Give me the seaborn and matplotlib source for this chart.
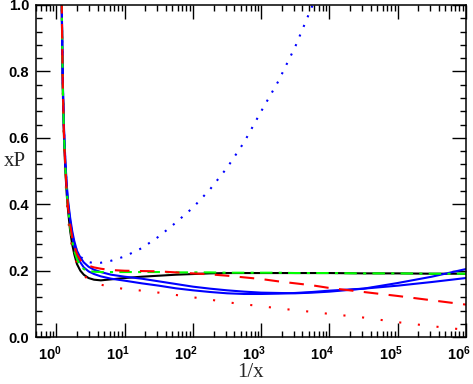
import matplotlib
matplotlib.use("Agg")
import matplotlib.pyplot as plt
import matplotlib.ticker as mticker
import matplotlib.transforms as mtransforms
import seaborn as sns
import numpy as np

# log10(1/x) sampling points
log_inv_x = [0.075, 0.085, 0.095, 0.11, 0.13, 0.15, 0.17, 0.2, 0.23, 0.26, 0.3, 0.35,
             0.4, 0.47, 0.55, 0.65, 0.8, 1.0, 1.25, 1.5, 1.75, 2.0, 2.25, 2.5, 2.75,
             3.0, 3.25, 3.5, 3.75, 4.0, 4.5, 5.0, 5.5, 6.0]

black_solid = [1.05, 0.85, 0.72, 0.6, 0.5, 0.43, 0.38, 0.32, 0.28, 0.25, 0.22, 0.2,
               0.188, 0.178, 0.173, 0.171, 0.174, 0.178, 0.182, 0.185, 0.188, 0.19,
               0.192, 0.193, 0.193, 0.193, 0.193, 0.193, 0.193, 0.193, 0.192, 0.192,
               0.191, 0.191]
blue_upper = [1.05, 0.87, 0.75, 0.63, 0.53, 0.46, 0.41, 0.36, 0.32, 0.29, 0.26, 0.24,
              0.225, 0.212, 0.203, 0.196, 0.188, 0.182, 0.176, 0.168, 0.16, 0.152,
              0.146, 0.141, 0.137, 0.134, 0.133, 0.132, 0.134, 0.137, 0.146, 0.163,
              0.182, 0.205]
blue_lower = [1.05, 0.86, 0.74, 0.62, 0.52, 0.45, 0.4, 0.35, 0.31, 0.275, 0.245, 0.225,
              0.21, 0.198, 0.19, 0.183, 0.176, 0.17, 0.162, 0.155, 0.147, 0.141, 0.136,
              0.132, 0.13, 0.13, 0.131, 0.133, 0.136, 0.14, 0.146, 0.155, 0.166, 0.178]
blue_dotted = [1.05, 0.86, 0.74, 0.62, 0.52, 0.45, 0.4, 0.35, 0.31, 0.28, 0.26, 0.243,
               0.233, 0.226, 0.223, 0.224, 0.23, 0.243, 0.268, 0.303, 0.345, 0.39,
               0.445, 0.51, 0.587, 0.68, 0.77, 0.875, 0.998, 1.13, 1.4, 1.7, 2.0, 2.3]
red_dotted = [1.05, 0.85, 0.7, 0.58, 0.48, 0.41, 0.36, 0.3, 0.27, 0.243, 0.222, 0.2,
              0.186, 0.173, 0.165, 0.158, 0.151, 0.145, 0.14, 0.134, 0.127, 0.12, 0.113,
              0.105, 0.099, 0.093, 0.087, 0.081, 0.076, 0.07, 0.059, 0.045, 0.033, 0.022]
green_dashdot = [1.05, 0.86, 0.73, 0.61, 0.51, 0.44, 0.39, 0.33, 0.29, 0.26, 0.235, 0.215,
                 0.205, 0.199, 0.197, 0.196, 0.196, 0.196, 0.196, 0.196, 0.195, 0.195,
                 0.195, 0.194, 0.194, 0.194, 0.194, 0.193, 0.193, 0.193, 0.192, 0.192,
                 0.191, 0.191]
red_dashed = [1.05, 0.86, 0.73, 0.61, 0.51, 0.44, 0.39, 0.34, 0.3, 0.275, 0.25, 0.232,
              0.222, 0.215, 0.21, 0.206, 0.202, 0.2, 0.199, 0.198, 0.195, 0.192, 0.189,
              0.185, 0.18, 0.175, 0.168, 0.162, 0.156, 0.148, 0.136, 0.124, 0.111, 0.098]

x_major = [1, 10, 100, 1000, 1e4, 1e5, 1e6]
x_labels = [r"$\mathbf{10^{%d}}$" % i for i in range(7)]
y_major = [0.0, 0.2, 0.4, 0.6, 0.8, 1.0]
y_labels = ["0.0", "0.2", "0.4", "0.6", "0.8", "1.0"]

sns.set_style("ticks")
plt.rcParams["font.family"] = ["Liberation Sans", "DejaVu Sans"]
plt.rcParams["mathtext.fontset"] = "custom"
plt.rcParams["mathtext.rm"] = "Liberation Sans"
plt.rcParams["mathtext.bf"] = "Liberation Sans:bold"

fig = plt.figure(figsize=(4.73, 3.84), dpi=100)
ax = fig.add_axes([0.076, 0.122, 0.909, 0.865])

inv_x = 10 ** np.array(log_inv_x)

series = [
    (black_solid, "black", "-"),
    (blue_upper, "#0000ff", "-"),
    (blue_lower, "#0000ff", "-"),
    (blue_dotted, "#0000ff", (0, (1, 4))),
    (red_dotted, "#ff0000", (0, (1, 8))),
    (green_dashdot, "#00ff00", (0, (6, 3, 1.5, 3))),
    (red_dashed, "#ff0000", (0, (7, 5))),
]
for vals, col, ls in series:
    sns.lineplot(x=inv_x, y=vals, color=col, linestyle=ls, linewidth=1.5,
                 estimator=None, sort=False, ax=ax)

ax.set_xscale("log")
ax.set_xlim(0.5, 1e6)
ax.set_ylim(0, 1.0)

ax.set_xticks(x_major)
ax.set_xticklabels(x_labels)
ax.xaxis.set_minor_locator(mticker.LogLocator(base=10, subs=np.arange(2, 10), numticks=20))
ax.xaxis.set_minor_formatter(mticker.NullFormatter())
ax.set_yticks(y_major)
ax.set_yticklabels(y_labels)
ax.yaxis.set_minor_locator(mticker.MultipleLocator(0.04))

ax.tick_params(which="both", direction="in", top=True, right=True, width=1, colors="black")
ax.tick_params(which="major", length=10, labelsize=10.5, pad=5)
ax.tick_params(which="minor", length=4)
for lab in ax.get_yticklabels():
    lab.set_fontweight("bold")

# the x labels sit a little left of their ticks in the original
shift = mtransforms.ScaledTranslation(-7 / 100, 0, fig.dpi_scale_trans)
for lab in ax.get_xticklabels():
    lab.set_transform(lab.get_transform() + shift)

for sp in ax.spines.values():
    sp.set_linewidth(1.1)
    sp.set_color("black")

ax.set_xlabel("1/x", fontsize=15, family=["Liberation Serif", "DejaVu Serif"], labelpad=0)
ax.set_ylabel("xP", fontsize=15, family=["Liberation Serif", "DejaVu Serif"],
              rotation=0, labelpad=4)
ax.yaxis.set_label_coords(-0.05, 0.5)

fig.savefig("out.png", dpi=100)
